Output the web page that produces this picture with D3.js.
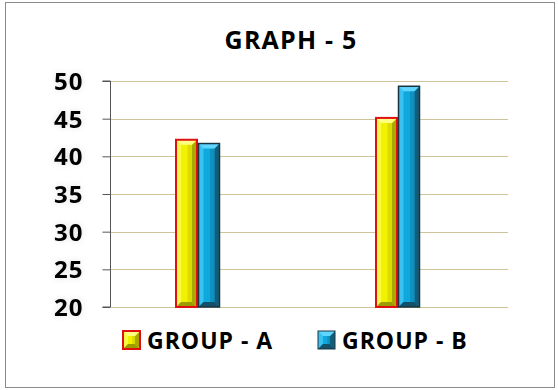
<!DOCTYPE html>
<html>
<head>
<meta charset="utf-8">
<script src="https://cdn.jsdelivr.net/npm/d3@7"></script>
<style>
  html, body { margin: 0; padding: 0; background: #fff; }
  svg { display: block; }
  text { font-family: "Open Sans", Lato, sans-serif; font-weight: 700; fill: #000; }
</style>
</head>
<body>
<svg id="chart" width="558" height="390"></svg>
<script>
// Chart data
const title = "GRAPH - 5";
const categories = ["1", "2"];
const seriesNames = ["GROUP - A", "GROUP - B"];
const groupA = [42.2, 45.1];
const groupB = [41.7, 49.3];
const yTicks = [20, 25, 30, 35, 40, 45, 50];

const width = 558, height = 390;
const svg = d3.select("#chart");

// Outer frame
svg.append("rect")
  .attr("x", 5.5).attr("y", 2.5)
  .attr("width", 549).attr("height", 385)
  .attr("fill", "#fff").attr("stroke", "#8c8c8c").attr("stroke-width", 1);

// Bevelled bar palettes
const palettes = [
  { face: "#f2f200", light: "#ffff80", dark: "#9c9c00", side: "#c4c400", border: "#e01010", bw: 2 },
  { face: "#0ea8dc", light: "#5fd6ff", dark: "#13506a", side: "#0b7aa3", border: "#1a3442", bw: 1.5 }
];

const plot = { left: 111, right: 508, top: 81, bottom: 307 };

const y = d3.scaleLinear().domain([20, 50]).range([plot.bottom, plot.top]);
const x0 = d3.scaleBand().domain(categories).range([98, 498]).padding(0);
const x1 = d3.scaleBand().domain(seriesNames).range([0, 45]).padding(0);

// Horizontal gridlines
svg.append("g").selectAll("line")
  .data(yTicks)
  .join("line")
  .attr("x1", plot.left).attr("x2", plot.right)
  .attr("y1", d => Math.round(y(d)) + 0.5).attr("y2", d => Math.round(y(d)) + 0.5)
  .attr("stroke", "#d0c49a").attr("stroke-width", 1);

// Soft glow behind axis labels
const defs = svg.append("defs");
const glow = defs.append("filter").attr("id", "glow")
  .attr("x", "-40%").attr("y", "-40%").attr("width", "180%").attr("height", "180%");
glow.append("feDropShadow").attr("dx", 0).attr("dy", 0)
  .attr("stdDeviation", 3).attr("flood-color", "#000").attr("flood-opacity", 0.12);

// Y axis
const yAxis = d3.axisLeft(y).tickValues(yTicks).tickSize(8).tickPadding(19);
const gy = svg.append("g")
  .attr("transform", `translate(${plot.left - 0.5},0)`)
  .call(yAxis);
gy.select(".domain").attr("stroke", "#555").attr("d", `M-8,${y(50)}H0V${y(20)}H-8`);
gy.selectAll(".tick line").attr("stroke", "#555");
gy.selectAll(".tick text")
  .attr("font-family", "'Open Sans', Lato, sans-serif")
  .attr("font-weight", 700)
  .attr("font-size", 24)
  .attr("letter-spacing", 1)
  .attr("fill", "#000")
  .attr("dy", "0.36em")
  .attr("filter", "url(#glow)");

// Draw one bevelled bar
function bevelBar(g, bx, by, bw, bh, p) {
  const b = Math.min(5, bh / 2);
  const gg = g.append("g");
  gg.append("rect").attr("x", bx).attr("y", by).attr("width", bw).attr("height", bh).attr("fill", p.face);
  // left bevel (lit)
  gg.append("path").attr("d", `M${bx},${by}L${bx + b},${by + b}L${bx + b},${by + bh - b}L${bx},${by + bh}Z`).attr("fill", p.light).attr("opacity", 0.55);
  // right bevel (shade)
  gg.append("path").attr("d", `M${bx + bw},${by}L${bx + bw - b},${by + b}L${bx + bw - b},${by + bh - b}L${bx + bw},${by + bh}Z`).attr("fill", p.dark).attr("opacity", 0.85);
  // right half of face slightly darker
  gg.append("rect").attr("x", bx + bw * 0.55).attr("y", by + b).attr("width", bw * 0.45 - b).attr("height", Math.max(0, bh - 2 * b)).attr("fill", p.side).attr("opacity", 0.5);
  // top bevel
  gg.append("path").attr("d", `M${bx},${by}L${bx + bw},${by}L${bx + bw - b},${by + b}L${bx + b},${by + b}Z`).attr("fill", p.light);
  // bottom bevel
  gg.append("path").attr("d", `M${bx},${by + bh}L${bx + bw},${by + bh}L${bx + bw - b},${by + bh - b}L${bx + b},${by + bh - b}Z`).attr("fill", p.dark);
  gg.append("rect").attr("x", bx).attr("y", by).attr("width", bw).attr("height", bh)
    .attr("fill", "none").attr("stroke", p.border).attr("stroke-width", p.bw);
}

const seriesValues = [groupA, groupB];
const barsG = svg.append("g");
categories.forEach((c, i) => {
  const cx = x0(c) + x0.bandwidth() / 2 - 23;
  seriesNames.forEach((s, j) => {
    const v = seriesValues[j][i];
    const bx = cx + x1(s) + 1;
    const top = y(v);
    bevelBar(barsG, bx, top, x1.bandwidth() - 1.5, y(20) - top, palettes[j]);
  });
});

// Title
svg.append("text")
  .attr("x", 291).attr("y", 49)
  .attr("text-anchor", "middle")
  .attr("font-size", 25)
  .attr("letter-spacing", 1.2)
  .text(title);

// Legend
const legendItems = [
  { name: seriesNames[0], x: 123, p: palettes[0] },
  { name: seriesNames[1], x: 318, p: palettes[1] }
];
legendItems.forEach(it => {
  const g = svg.append("g");
  bevelBar(g, it.x, 331, 17, 18, Object.assign({}, it.p, { bw: it.p === palettes[0] ? 2 : 1 }));
  g.append("text")
    .attr("x", it.x + 24).attr("y", 349)
    .attr("font-size", 23)
    .attr("letter-spacing", 1)
    .text(it.name);
});
</script>
</body>
</html>
